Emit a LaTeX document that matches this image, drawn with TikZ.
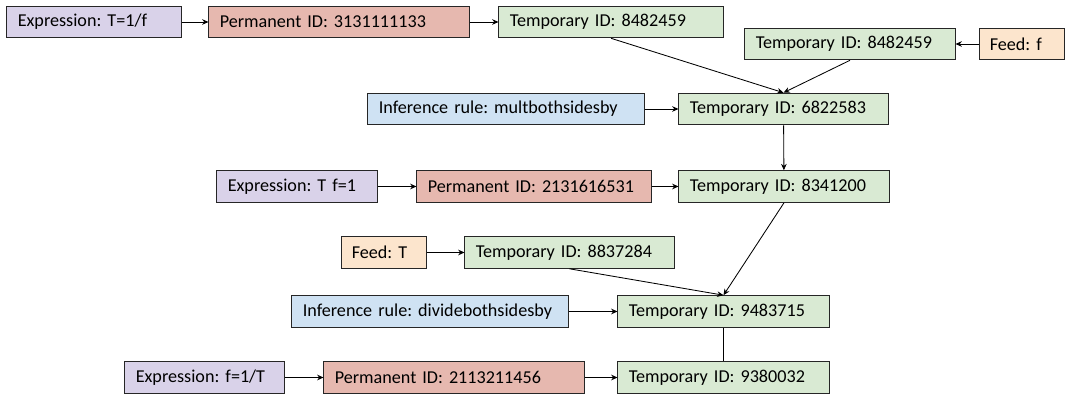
\documentclass[tikz,border=0pt]{standalone}
\usepackage{fontspec}
\setmainfont{Carlito}
\frenchspacing
\hyphenpenalty=10000
\usetikzlibrary{arrows.meta}
\definecolor{exprfill}{HTML}{D9D2E9}
\definecolor{permfill}{HTML}{E6B8AF}
\definecolor{tempfill}{HTML}{D9EAD3}
\definecolor{rulefill}{HTML}{CFE2F3}
\definecolor{feedfill}{HTML}{FCE5CD}
\tikzset{
  idbox/.style={draw=black!85, line width=0.7pt, minimum height=0.79cm, inner xsep=0.27cm, inner ysep=0pt, align=left, font=\fontsize{12.9}{15}\selectfont},
  exprbox/.style={idbox, fill=exprfill},
  permbox/.style={idbox, fill=permfill},
  tempbox/.style={idbox, fill=tempfill},
  rulebox/.style={idbox, fill=rulefill},
  feedbox/.style={idbox, fill=feedfill}
}
\begin{document}
\begin{tikzpicture}[x=0.025cm, y=-0.025cm, >={Stealth[length=4.5pt,width=4pt]}, line width=0.6pt]
                    \useasboundingbox (0,0) rectangle (1072,412);
                    \node[exprbox, text width=3.81cm] (e1) at (94,22) {Expression: T=1/f};
                    \node[permbox, text width=5.96cm] (p1) at (339,22) {Permanent ID: 3131111133};
                    \node[tempbox, text width=5.06cm] (t1) at (611,22) {Temporary ID: 8482459};
                    \node[tempbox, text width=4.71cm] (t2) at (850,44) {Temporary ID: 8482459};
                    \node[feedbox, text width=1.585cm] (ff) at (1021.5,44) {Feed: f};
                    \node[rulebox, text width=6.36cm] (r1) at (506,109) {Inference rule: multbothsidesby};
                    \node[tempbox, text width=4.685cm] (t3) at (783.5,109) {Temporary ID: 6822583};
                    \node[exprbox, text width=3.46cm] (e2) at (297,186.5) {Expression: T f=1};
                    \node[permbox, text width=5.31cm] (p2) at (534,186.5) {Permanent ID: 2131616531};
                    \node[tempbox, text width=4.71cm] (t4) at (784,186.5) {Temporary ID: 8341200};
                    \node[feedbox, text width=1.585cm] (fT) at (383.5,252.5) {Feed: T};
                    \node[tempbox, text width=4.685cm] (t5) at (569.5,252.5) {Temporary ID: 8837284};
                    \node[rulebox, text width=6.36cm] (r2) at (430,311.5) {Inference rule: dividebothsidesby};
                    \node[tempbox, text width=4.735cm] (t6) at (723.5,311.5) {Temporary ID: 9483715};
                    \node[exprbox, text width=3.435cm] (e3) at (204.5,377.5) {Expression: f=1/T};
                    \node[permbox, text width=5.96cm] (p3) at (454,377.5) {Permanent ID: 2113211456};
                    \node[tempbox, text width=4.735cm] (t7) at (723.5,377.5) {Temporary ID: 9380032};
                    \draw[->] (e1) -- (p1);
                    \draw[->] (p1) -- (t1);
                    \draw[->] (t1.south) -- (t3.north);
                    \draw[->] (t2.south) -- (t3.north);
                    \draw[->] (ff) -- (t2);
                    \draw[->] (r1) -- (t3);
                    \draw[->] (t3) -- (t4);
                    \draw[->] (e2) -- (p2);
                    \draw[->] (p2) -- (t4);
                    \draw[->] (fT) -- (t5);
                    \draw[->] (t4.south) -- (t6.north);
                    \draw[->] (t5.south) -- (t6.north);
                    \draw[->] (r2) -- (t6);
                    \draw (t6) -- (t7);
                    \draw[->] (e3) -- (p3);
                    \draw[->] (p3) -- (t7);
                \end{tikzpicture}
\end{document}
